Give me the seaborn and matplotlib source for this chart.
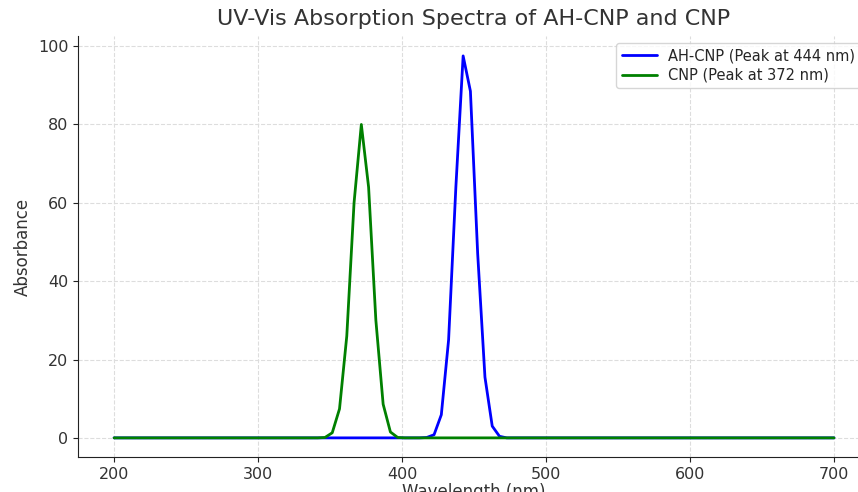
import numpy as np
import pandas as pd
import matplotlib
matplotlib.use("Agg")
import matplotlib.pyplot as plt
import seaborn as sns

# wavelength grid (nm), 100 samples from 200 to 700
wavelength = np.linspace(200, 700, 100)

# absorbance
ah_cnp = ([0.0] * 43
          + [0.1, 0.8, 5.9, 25.0, 64.0, 97.5, 88.5, 47.0, 15.5, 3.0, 0.4]
          + [0.0] * 46)
cnp = ([0.0] * 29
       + [0.1, 1.3, 7.4, 26.0, 60.0, 80.0, 64.0, 30.0, 8.6, 1.5, 0.1]
       + [0.0] * 60)

labels = ["AH-CNP (Peak at 444 nm)", "CNP (Peak at 372 nm)"]
colors = ["#0000ff", "#008000"]

df = pd.DataFrame({
    "Wavelength": np.concatenate([wavelength, wavelength]),
    "Absorbance": ah_cnp + cnp,
    "Sample": [labels[0]] * len(wavelength) + [labels[1]] * len(wavelength),
})

sns.set_style("ticks", {"axes.grid": True, "grid.linestyle": "--", "grid.color": "#dddddd"})
plt.rcParams["font.family"] = ["DejaVu Sans"]

fig = plt.figure(figsize=(8.58, 4.92), dpi=100)
ax = fig.add_axes([0.091, 0.071, 0.923, 0.856])

sns.lineplot(data=df, x="Wavelength", y="Absorbance", hue="Sample",
             palette=colors, linewidth=2, ax=ax)

ax.set_xlim(175, 725)
ax.set_ylim(-4.9, 102.6)
ax.set_xticks([200, 300, 400, 500, 600, 700])
ax.set_yticks([0, 20, 40, 60, 80, 100])
ax.tick_params(labelsize=11.5, colors="#222222", labelcolor="#333333")
ax.grid(True, linestyle="--", color="#dddddd", linewidth=0.8)
for s in ["top", "right"]:
    ax.spines[s].set_visible(False)
for s in ["left", "bottom"]:
    ax.spines[s].set_color("#222222")

ax.set_xlabel("Wavelength (nm)", fontsize=12, color="#333333", labelpad=1)
ax.set_ylabel("Absorbance", fontsize=12, color="#333333")
ax.set_title("UV-Vis Absorption Spectra of AH-CNP and CNP", fontsize=16,
             color="#333333", pad=8)
leg = ax.legend(loc="upper right", bbox_to_anchor=(0.997, 1.0), fontsize=10.5,
                frameon=True, handlelength=2.4, labelspacing=0.3, borderpad=0.35)
leg.set_title(None)

fig.savefig("out.png", dpi=100)
